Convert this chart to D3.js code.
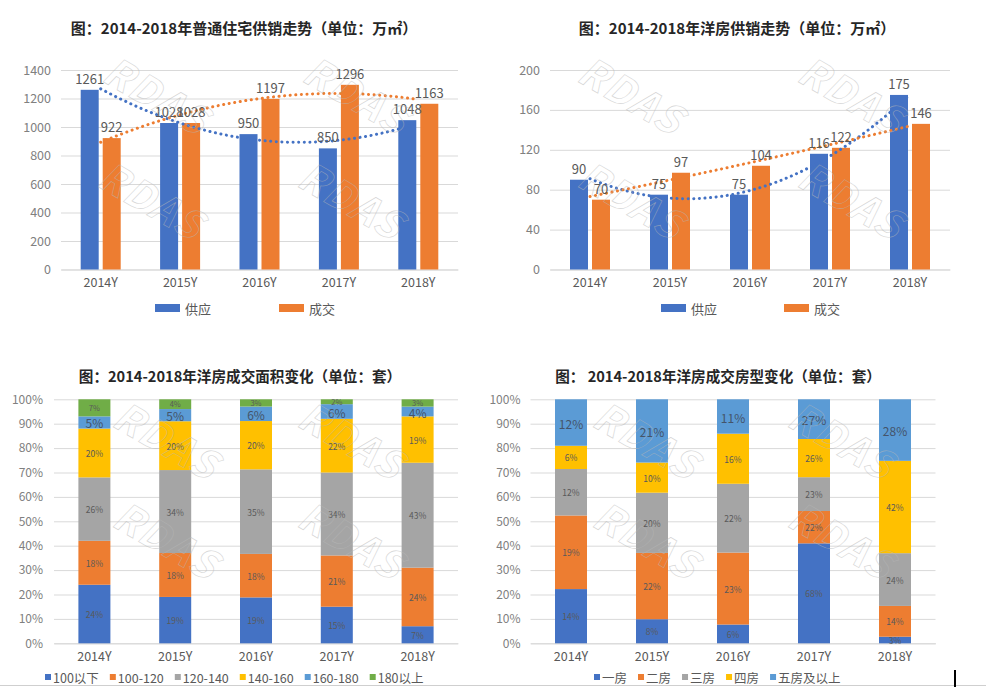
<!DOCTYPE html>
<html><head><meta charset="utf-8">
<script src="https://cdn.jsdelivr.net/npm/d3@7/dist/d3.min.js"></script>
<style>
body{margin:0;background:#fff}
svg{display:block}
text{font-family:"Noto Sans CJK SC","Noto Sans",sans-serif}
</style>
</head><body>
<svg id="c" width="986" height="688"></svg>
<script>
// ---------- data ----------
const years = ["2014Y","2015Y","2016Y","2017Y","2018Y"];
const supplyDealNames = ["供应","成交"];
const ordinarySupply = [1261,1028,950,850,1048];
const ordinaryDeal   = [922,1028,1197,1296,1163];
const ordinaryTicks  = [0,200,400,600,800,1000,1200,1400];
const villaSupply = [90,75,75,116,175];
const villaDeal   = [70,97,104,122,146];
const villaTicks  = [0,40,80,120,160,200];
const areaNames = ["100以下","100-120","120-140","140-160","160-180","180以上"];
const area100Below = [24,19,19,15,7];
const area100to120 = [18,18,18,21,24];
const area120to140 = [26,34,35,34,43];
const area140to160 = [20,20,20,22,19];
const area160to180 = [5,5,6,6,4];
const area180Above = [7,4,3,2,3];
const roomNames = ["一房","二房","三房","四房","五房及以上"];
const room1 = [14,8,6,68,3];
const room2 = [19,22,23,22,14];
const room3 = [12,20,22,23,24];
const room4 = [6,10,16,26,42];
const room5 = [12,21,11,27,28];
const pctTicks = [0,0.1,0.2,0.3,0.4,0.5,0.6,0.7,0.8,0.9,1];
const titles = [
  "图：2014-2018年普通住宅供销走势（单位：万㎡）",
  "图：2014-2018年洋房供销走势（单位：万㎡）",
  "图：2014-2018年洋房成交面积变化（单位：套）",
  "图： 2014-2018年洋房成交房型变化（单位：套）"
];

// ---------- style ----------
const BLUE="#4472C4", ORANGE="#ED7D31", GRAY="#A5A5A5", YELLOW="#FFC000", LBLUE="#5B9BD5", GREEN="#70AD47";
const GRID="#D9D9D9", TICK="#808080", LABEL="#595959";
const svg = d3.select("#c");

function title(txt, cx, cy, size){
  svg.append("text").attr("x",cx).attr("y",cy).attr("text-anchor","middle")
    .attr("dominant-baseline","central").attr("font-size",size).attr("font-weight","bold")
    .attr("fill","#262626").text(txt);
}

function quadFit(vals){
  // least squares quadratic trendline through (i, v)
  const xs = vals.map((_,i)=>i);
  const mx = d3.mean(xs);
  const p1 = xs.map(x=>x-mx);
  const m2 = d3.mean(p1.map(p=>p*p));
  const p2 = p1.map(p=>p*p-m2);
  const a = d3.mean(vals);
  const b = d3.sum(vals.map((v,i)=>v*p1[i]))/d3.sum(p1.map(p=>p*p));
  const c = d3.sum(vals.map((v,i)=>v*p2[i]))/d3.sum(p2.map(p=>p*p));
  return t => a + b*(t-mx) + c*((t-mx)*(t-mx)-m2);
}

function barChart(o){
  const g = svg.append("g");
  title(o.title, o.tx, 27, o.tsize);
  const x = d3.scaleBand().domain(years).range([o.left,o.right]);
  const y = d3.scaleLinear().domain([0,d3.max(o.ticks)]).range([o.bottom,o.top]);
  const yAxis = d3.axisLeft(y).tickValues(o.ticks).tickFormat(d3.format("d")).tickSize(-(o.right-o.left)).tickPadding(10);
  const ga = g.append("g").attr("transform",`translate(${o.left},0)`).call(yAxis);
  ga.select(".domain").remove();
  ga.selectAll(".tick line").attr("stroke",GRID);
  ga.selectAll(".tick text").attr("fill",TICK).attr("font-size",12.5).attr("font-family",'"Noto Sans CJK SC",sans-serif');
  const xAxis = d3.axisBottom(x).tickSize(0).tickPadding(9);
  const gx = g.append("g").attr("transform",`translate(0,${o.bottom})`).call(xAxis);
  gx.select(".domain").attr("stroke",GRID);
  gx.selectAll(".tick text").attr("fill",LABEL).attr("font-size",12.5).attr("font-family",'"Noto Sans CJK SC",sans-serif');
  const series=[{vals:o.supply,color:BLUE,off:-20},{vals:o.deal,color:ORANGE,off:2}];
  const bw=18;
  series.forEach(s=>{
    g.selectAll(null).data(s.vals).join("rect")
      .attr("x",(d,i)=>x(years[i])+x.bandwidth()/2+s.off).attr("width",bw)
      .attr("y",d=>y(d)).attr("height",d=>o.bottom-y(d)).attr("fill",s.color);
  });
  series.forEach(s=>{
    const f = quadFit(s.vals);
    const pts = d3.range(0,4.0001,0.05).map(t=>[x(years[0])+x.bandwidth()/2 + t*x.step(), y(f(t))]);
    g.append("path").attr("d",d3.line()(pts)).attr("fill","none").attr("stroke",s.color)
      .attr("stroke-width",3).attr("stroke-linecap","round").attr("stroke-dasharray","0.1,5.5");
  });
  series.forEach(s=>{
    g.selectAll(null).data(s.vals).join("text")
      .attr("x",(d,i)=>x(years[i])+x.bandwidth()/2+s.off+bw/2).attr("y",d=>y(d)-6)
      .attr("text-anchor","middle").attr("font-size",13).attr("fill",LABEL).text(d=>d);
  });
  // legend
  supplyDealNames.forEach((nm,i)=>{
    const lx = o.legendX[i];
    g.append("rect").attr("x",lx).attr("y",304).attr("width",25).attr("height",8).attr("fill",i?ORANGE:BLUE);
    g.append("text").attr("x",lx+30).attr("y",308).attr("dominant-baseline","central")
      .attr("font-size",13).attr("fill",LABEL).text(nm);
  });
}

function stackChart(o){
  const g = svg.append("g");
  title(o.title, o.tx, 375, 14.6);
  const rows = years.map((yr,i)=>{const r={year:yr}; o.names.forEach((nm,k)=>r[nm]=o.series[k][i]); return r;});
  const stacked = d3.stack().keys(o.names).offset(d3.stackOffsetExpand)(rows);
  const x = d3.scaleBand().domain(years).range([o.left,o.right]);
  const y = d3.scaleLinear().domain([0,1]).range([o.bottom,o.top]);
  const yAxis = d3.axisLeft(y).tickValues(pctTicks).tickFormat(d3.format(".0%")).tickSize(-(o.right-o.left)).tickPadding(o.tickPad);
  const ga = g.append("g").attr("transform",`translate(${o.left},0)`).call(yAxis);
  ga.select(".domain").remove();
  ga.selectAll(".tick line").attr("stroke",GRID);
  ga.selectAll(".tick text").attr("fill",TICK).attr("font-size",12).attr("font-family",'"Noto Sans CJK SC",sans-serif');
  const gx = g.append("g").attr("transform",`translate(0,${o.bottom})`).call(d3.axisBottom(x).tickSize(0).tickPadding(9));
  gx.select(".domain").attr("stroke",GRID);
  gx.selectAll(".tick text").attr("fill",LABEL).attr("font-size",12.5).attr("font-family",'"Noto Sans CJK SC",sans-serif');
  const bw=32;
  stacked.forEach((layer,k)=>{
    g.selectAll(null).data(layer).join("rect")
      .attr("x",d=>x(d.data.year)+x.bandwidth()/2-bw/2).attr("width",bw)
      .attr("y",d=>y(d[1])).attr("height",d=>y(d[0])-y(d[1])).attr("fill",o.colors[k]);
  });
  stacked.forEach((layer,k)=>{
    const big = o.colors[k]===LBLUE;
    const top = o.colors[k]===GREEN;
    g.selectAll(null).data(layer).join("text")
      .attr("x",d=>x(d.data.year)+x.bandwidth()/2).attr("y",d=>(y(d[0])+y(d[1]))/2 + (top?-0.5:0) + (big?0.5:0))
      .attr("text-anchor","middle").attr("dominant-baseline","central")
      .attr("font-size",big?12:(top?7.5:8.5)).attr("fill",big?"#44546A":"#595959")
      .text(d=>d.data[o.names[k]]+"%");
  });
  // legend
  let lx = o.legendX;
  o.names.forEach((nm,k)=>{
    g.append("rect").attr("x",lx).attr("y",674).attr("width",6).attr("height",6).attr("fill",o.colors[k]);
    const t = g.append("text").attr("x",lx+8).attr("y",677).attr("dominant-baseline","central")
      .attr("font-size",12.5).attr("fill",LABEL).text(nm);
    lx += 8 + t.node().getComputedTextLength() + o.legendGap;
  });
}

barChart({title:titles[0], tx:244, tsize:15, left:61, right:458, top:70, bottom:269.5,
  ticks:ordinaryTicks, supply:ordinarySupply, deal:ordinaryDeal, legendX:[155,279]});
barChart({title:titles[1], tx:737, tsize:15, left:550, right:950, top:70, bottom:269.5,
  ticks:villaTicks, supply:villaSupply, deal:villaDeal, legendX:[661,784]});
stackChart({title:titles[2], tx:240, left:54, right:458, top:399.3, bottom:643.3, tickPad:11,
  names:areaNames, series:[area100Below,area100to120,area120to140,area140to160,area160to180,area180Above],
  colors:[BLUE,ORANGE,GRAY,YELLOW,LBLUE,GREEN], legendX:45, legendGap:11});
stackChart({title:titles[3], tx:718, left:530.5, right:935.5, top:399.3, bottom:643.3, tickPad:10,
  names:roomNames, series:[room1,room2,room3,room4,room5],
  colors:[BLUE,ORANGE,GRAY,YELLOW,LBLUE], legendX:594, legendGap:11});

// watermark
const wm = [[100,80],[300,80],[575,80],[795,80],[95,185],[295,185],[575,185],[795,185],
            [110,425],[295,425],[590,425],[785,425],[110,525],[295,525],[590,525],[785,525]];
svg.append("g").selectAll("text").data(wm).join("text")
  .attr("transform",d=>`translate(${d[0]},${d[1]}) rotate(30)`)
  .attr("font-family","DejaVu Sans").attr("font-weight","bold").attr("font-style","oblique")
  .attr("font-size",40).attr("fill","none").attr("stroke","#b8b8b8").attr("stroke-width",0.6)
  .attr("opacity",0.6).attr("letter-spacing",2).text("RDAS");

// frame artifacts
svg.append("line").attr("x1",0).attr("x2",986).attr("y1",685.5).attr("y2",685.5).attr("stroke","#cfcfcf");
svg.append("rect").attr("x",954).attr("y",670).attr("width",2).attr("height",17).attr("fill","#000");
</script>
</body></html>
